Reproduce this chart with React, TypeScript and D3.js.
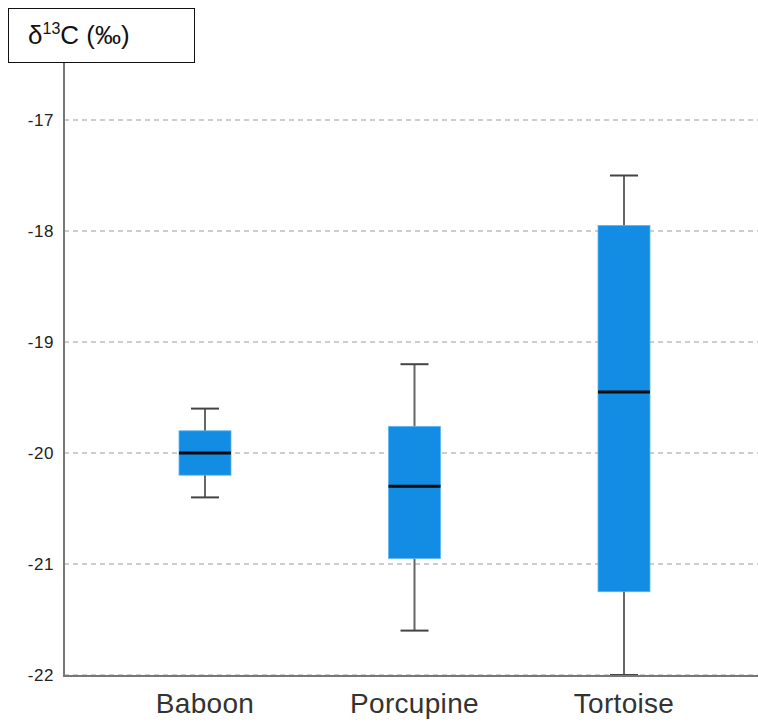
import { useEffect, useRef } from 'react';
import * as d3 from 'd3';

const categories = ['Baboon', 'Porcupine', 'Tortoise'];
const whiskerLow = [-20.4, -21.6, -22.0];
const q1 = [-20.2, -20.95, -21.25];
const median = [-20.0, -20.3, -19.45];
const q3 = [-19.8, -19.76, -17.95];
const whiskerHigh = [-19.6, -19.2, -17.5];
const yTicks = [-22, -21, -20, -19, -18, -17];

const FONT = "'Liberation Sans', Arial, sans-serif";

export default function App() {
  const svgRef = useRef<SVGSVGElement>(null);

  useEffect(() => {
    if (!svgRef.current) return;
    const width = 758;
    const height = 722;
    const axisX = 64;
    const axisTop = 62;
    const axisBottom = 676;

    const svg = d3.select(svgRef.current);
    svg.selectAll('*').remove();
    svg.attr('width', width).attr('height', height);

    const y = d3.scaleLinear().domain([-22, -17]).range([675, 120]);
    const x = d3.scalePoint<string>().domain(categories).range([205, 624]);
    const boxW = 52;
    const capW = 28;

    // Gridlines
    svg.append('g')
      .selectAll('line')
      .data(yTicks)
      .enter()
      .append('line')
      .attr('x1', axisX)
      .attr('x2', width)
      .attr('y1', d => y(d))
      .attr('y2', d => y(d))
      .attr('stroke', '#bdbdbd')
      .attr('stroke-width', 1.5)
      .attr('stroke-dasharray', '5,4');

    // Tick labels
    svg.append('g')
      .selectAll('text')
      .data(yTicks)
      .enter()
      .append('text')
      .attr('x', 54)
      .attr('y', d => y(d))
      .attr('dy', '0.36em')
      .attr('text-anchor', 'end')
      .attr('font-family', FONT)
      .attr('font-size', '17px')
      .attr('letter-spacing', '0.6px')
      .attr('fill', '#222')
      .text(d => `${d}`);

    const data = categories.map((c, i) => ({
      c, lo: whiskerLow[i], q1: q1[i], med: median[i], q3: q3[i], hi: whiskerHigh[i],
    }));

    const g = svg.append('g');
    const boxes = g.selectAll('g.box').data(data).enter().append('g');

    // Whiskers
    boxes.append('line')
      .attr('x1', d => x(d.c)!)
      .attr('x2', d => x(d.c)!)
      .attr('y1', d => y(d.hi))
      .attr('y2', d => y(d.lo))
      .attr('stroke', '#666')
      .attr('stroke-width', 2);
    ['hi', 'lo'].forEach(k => {
      boxes.append('line')
        .attr('x1', d => x(d.c)! - capW / 2)
        .attr('x2', d => x(d.c)! + capW / 2)
        .attr('y1', d => y((d as any)[k]))
        .attr('y2', d => y((d as any)[k]))
        .attr('stroke', '#444')
        .attr('stroke-width', 2);
    });

    // Boxes
    boxes.append('rect')
      .attr('x', d => x(d.c)! - boxW / 2)
      .attr('y', d => y(d.q3))
      .attr('width', boxW)
      .attr('height', d => y(d.q1) - y(d.q3))
      .attr('fill', '#138de4')
      .attr('stroke', '#5fb4f0')
      .attr('stroke-width', 0.8);

    // Median
    boxes.append('line')
      .attr('x1', d => x(d.c)! - boxW / 2)
      .attr('x2', d => x(d.c)! + boxW / 2)
      .attr('y1', d => y(d.med))
      .attr('y2', d => y(d.med))
      .attr('stroke', '#0a0a0a')
      .attr('stroke-width', 3);

    // Axes
    svg.append('line')
      .attr('x1', axisX).attr('x2', axisX)
      .attr('y1', axisTop).attr('y2', axisBottom)
      .attr('stroke', '#777').attr('stroke-width', 2);
    svg.append('line')
      .attr('x1', axisX - 1).attr('x2', width)
      .attr('y1', axisBottom).attr('y2', axisBottom)
      .attr('stroke', '#777').attr('stroke-width', 2);

    // Category labels
    svg.append('g')
      .selectAll('text')
      .data(categories)
      .enter()
      .append('text')
      .attr('x', d => x(d)!)
      .attr('y', 713)
      .attr('text-anchor', 'middle')
      .attr('font-family', FONT)
      .attr('font-size', '28px')
      .attr('letter-spacing', '0.3px')
      .attr('fill', '#333')
      .text(d => d);

    // Title box
    svg.append('rect')
      .attr('x', 8.5).attr('y', 8.5)
      .attr('width', 186).attr('height', 54)
      .attr('fill', '#fff')
      .attr('stroke', '#111')
      .attr('stroke-width', 1);
    const t = svg.append('text')
      .attr('x', 28)
      .attr('y', 44)
      .attr('font-family', FONT)
      .attr('font-size', '26px')
      .attr('fill', '#111');
    t.append('tspan').text('δ');
    t.append('tspan').attr('font-size', '16px').attr('dy', -10).text('13');
    t.append('tspan').attr('dy', 10).text('C (‰)');
  }, []);

  return (
    <div style={{ position: 'absolute', left: 0, top: 0 }}>
      <svg ref={svgRef} style={{ display: 'block' }} />
    </div>
  );
}
